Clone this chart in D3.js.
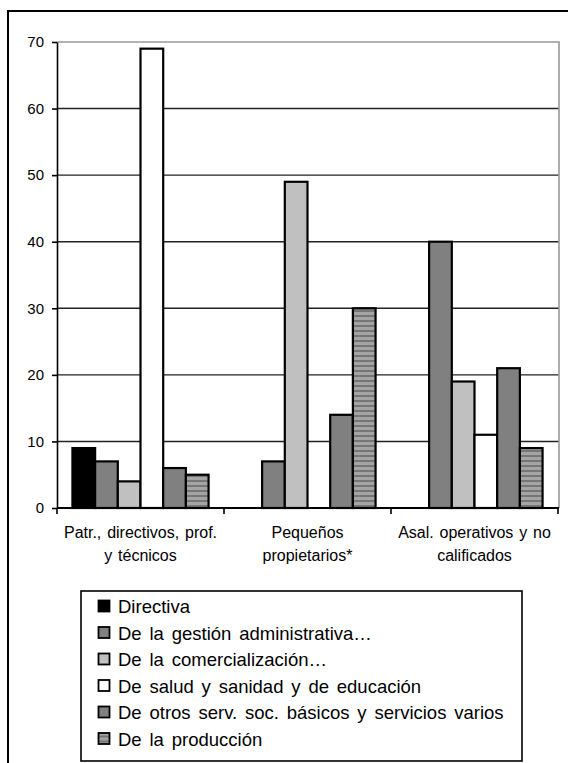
<!DOCTYPE html>
<html>
<head>
<meta charset="utf-8">
<script src="https://cdn.jsdelivr.net/npm/d3@7"></script>
<style>
  body { margin: 0; background: #fff; }
  svg { display: block; font-family: "Liberation Sans", Arial, sans-serif; }
</style>
</head>
<body>
<svg id="chart" width="568" height="763"></svg>
<script>
// Occupational groups (x categories), each label split into two lines
const categoryLines = [
  ["Patr., directivos, prof.", "y técnicos"],
  ["Pequeños", "propietarios*"],
  ["Asal. operativos y no", "calificados"]
];
const categories = categoryLines.map(l => l.join(" "));

// Sectors (series)
const seriesNames = [
  "Directiva",
  "De la gestión administrativa…",
  "De la comercialización…",
  "De salud y sanidad y de educación",
  "De otros serv. soc. básicos y servicios varios",
  "De la producción"
];

// Values per sector, one per category
const directiva        = [9, 0, 0];
const gestion          = [7, 7, 40];
const comercializacion = [4, 49, 19];
const salud            = [69, 0, 11];
const otros            = [6, 14, 21];
const produccion       = [5, 30, 9];

const yTicks = [0, 10, 20, 30, 40, 50, 60, 70];

const seriesValues = [directiva, gestion, comercializacion, salud, otros, produccion];
const fills = ["#000000", "#808080", "#c0c0c0", "#ffffff", "#808080", "url(#stripes)"];

const svg = d3.select("#chart");

// horizontal stripe fill used by "De la producción"
const defs = svg.append("defs");
const pat = defs.append("pattern")
  .attr("id", "stripes").attr("patternUnits", "userSpaceOnUse")
  .attr("width", 8).attr("height", 5);
pat.append("rect").attr("width", 8).attr("height", 5).attr("fill", "#a4a4a4");
pat.append("rect").attr("width", 8).attr("height", 2).attr("fill", "#767676");

// outer chart frame (runs past the right and bottom edges)
svg.append("rect")
  .attr("x", 8).attr("y", 11).attr("width", 600).attr("height", 800)
  .attr("fill", "none").attr("stroke", "#000").attr("stroke-width", 2);

const plot = { left: 57, right: 558, top: 42, bottom: 508 };

const y = d3.scaleLinear().domain([0, 70]).range([plot.bottom, plot.top]);
const x0 = d3.scaleBand().domain(categories).range([plot.left, plot.right])
  .paddingInner(0).paddingOuter(0);
const x1 = d3.scaleBand().domain(seriesNames).range([0, x0.bandwidth()])
  .paddingInner(0).paddingOuter(0.68);

// gridlines
svg.append("g").selectAll("line")
  .data(yTicks.filter(t => t > 0 && t < 70))
  .join("line")
  .attr("x1", plot.left).attr("x2", plot.right + 1)
  .attr("y1", d => y(d)).attr("y2", d => y(d))
  .attr("stroke", "#222").attr("stroke-width", 1.4);

// plot area border (top and right)
svg.append("path")
  .attr("d", `M${plot.left},${y(70)}H${plot.right + 1}V${plot.bottom}`)
  .attr("fill", "none").attr("stroke", "#999").attr("stroke-width", 1.6);

// bars
const groups = svg.append("g").selectAll("g")
  .data(categories)
  .join("g")
  .attr("transform", d => `translate(${x0(d)},0)`);

groups.selectAll("rect")
  .data((c, ci) => seriesNames.map((s, si) => ({ s, si, v: seriesValues[si][ci] })))
  .join("rect")
  .attr("x", d => x1(d.s))
  .attr("width", x1.bandwidth())
  .attr("y", d => y(d.v))
  .attr("height", d => y(0) - y(d.v))
  .attr("fill", d => fills[d.si])
  .attr("stroke", "#000")
  .attr("stroke-width", 2.2);

// y axis
const yAxis = svg.append("g")
  .attr("transform", `translate(${plot.left},0)`)
  .call(d3.axisLeft(y).tickValues(yTicks).tickSize(5).tickPadding(8).tickSizeOuter(0));
yAxis.select(".domain").attr("stroke", "#000").attr("stroke-width", 1.6);
yAxis.selectAll(".tick line").attr("stroke", "#000").attr("stroke-width", 1.6);
yAxis.selectAll(".tick text")
  .attr("font-size", 15).attr("fill", "#000")
  .attr("font-family", "'Liberation Sans', Arial, sans-serif");

// x axis with ticks on category boundaries
const boundaries = categories.map(c => x0(c)).concat([x0(categories[categories.length - 1]) + x0.bandwidth()]);
const xAxis = svg.append("g");
xAxis.append("line")
  .attr("x1", plot.left).attr("x2", plot.right + 1)
  .attr("y1", y(0)).attr("y2", y(0))
  .attr("stroke", "#000").attr("stroke-width", 1.8);
xAxis.selectAll("line.tick")
  .data(boundaries)
  .join("line").attr("class", "tick")
  .attr("x1", d => d).attr("x2", d => d)
  .attr("y1", y(0)).attr("y2", y(0) + 6)
  .attr("stroke", "#000").attr("stroke-width", 1.6);

// category labels
const labels = xAxis.selectAll("text.cat")
  .data(categoryLines)
  .join("text").attr("class", "cat")
  .attr("text-anchor", "middle")
  .attr("font-size", 16)
  .attr("word-spacing", 1.4)
  .attr("fill", "#000");
labels.selectAll("tspan")
  .data((d, i) => d.map(t => ({ t, c: categories[i] })))
  .join("tspan")
  .attr("x", d => x0(d.c) + x0.bandwidth() / 2)
  .attr("y", (d, i) => 538 + i * 23)
  .text(d => d.t);

// legend
const legend = svg.append("g");
legend.append("rect")
  .attr("x", 81).attr("y", 591).attr("width", 441).attr("height", 170)
  .attr("fill", "#fff").attr("stroke", "#000").attr("stroke-width", 1.6);

const rows = legend.selectAll("g.row")
  .data(seriesNames)
  .join("g").attr("class", "row")
  .attr("transform", (d, i) => `translate(0,${613 + i * 26.5})`);
rows.append("rect")
  .attr("x", 98.5).attr("y", -12.5).attr("width", 11).attr("height", 11)
  .attr("fill", (d, i) => fills[i])
  .attr("stroke", "#000").attr("stroke-width", 1.8);
rows.append("text")
  .attr("x", 118).attr("y", 0)
  .attr("font-size", 18.5)
  .attr("word-spacing", 2.7)
  .attr("fill", "#000")
  .text(d => d);
</script>
</body>
</html>
